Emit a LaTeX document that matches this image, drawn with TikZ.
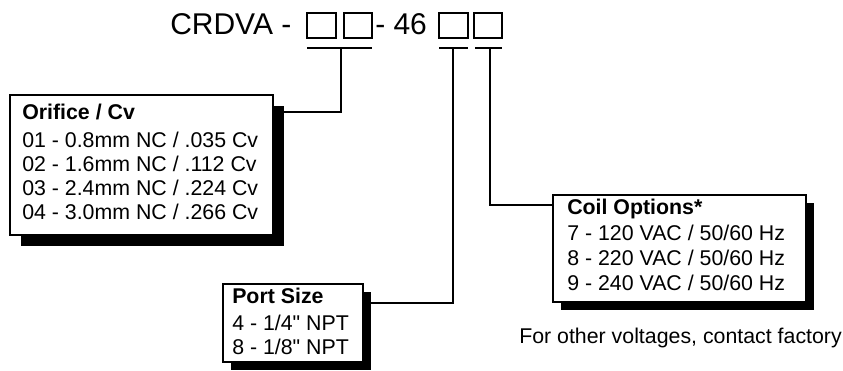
\documentclass[tikz,border=0pt]{standalone}
\usepackage{fontspec}
\setmainfont{Liberation Sans}[Ligatures=TeXOff]
\usetikzlibrary{shadows,fit}
\begin{document}
\begin{tikzpicture}[x=0.75pt,y=-0.75pt,
  box/.style={draw=black, line width=1pt, fill=white, inner sep=0pt,
    drop shadow={shadow xshift=#1, shadow yshift=-#1, fill=black, opacity=1}},
  sq/.style={draw=black, line width=1.6pt, inner sep=0pt},
  conn/.style={draw=black, line width=1.6pt},
  txt/.style={inner sep=0pt, anchor=base west, font=\fontsize{16pt}{18pt}\selectfont},
  hd/.style={txt, font=\fontsize{16pt}{18pt}\selectfont\bfseries},
  ttl/.style={inner sep=0pt, anchor=base west, font=\fontsize{22.5pt}{27pt}\selectfont}]
\useasboundingbox (0,0) rectangle (843,371);

% title
\node[ttl] (t1) at (170,34) {CRDVA -};
\node[sq, fit={(307,13)(336,38)}] (s1) {};
\node[sq, fit={(344,13)(372,38)}] (s2) {};
\node[ttl] (t2) at (375,34) {- 46};
\node[sq, fit={(439,13)(468,38)}] (s3) {};
\node[sq, fit={(474,13)(502,38)}] (s4) {};

% boxes
\node[box=8.25pt, fit={(10,95)(273,235)}] (orifice) {};
\node[box=6pt, fit={(223,284)(363,362)}] (port) {};
\node[box=6pt, fit={(553,195)(806,302)}] (coil) {};

% orifice text
\node[hd] (o0) at (22,119) {Orifice / Cv};
\node[txt] (o1) at (22,147) {01 - 0.8mm NC / .035 Cv};
\node[txt] (o2) at (22,171) {02 - 1.6mm NC / .112 Cv};
\node[txt] (o3) at (22,195) {03 - 2.4mm NC / .224 Cv};
\node[txt] (o4) at (22,219) {04 - 3.0mm NC / .266 Cv};

% port text
\node[hd] (p0) at (232,303) {Port Size};
\node[txt] (p1) at (232,330) {4 - 1/4" NPT};
\node[txt] (p2) at (232,354) {8 - 1/8" NPT};

% coil text
\node[hd] (c0) at (567,214) {Coil Options*};
\node[txt] (c1) at (567,240) {7 - 120 VAC / 50/60 Hz};
\node[txt] (c2) at (567,265) {8 - 220 VAC / 50/60 Hz};
\node[txt] (c3) at (567,290) {9 - 240 VAC / 50/60 Hz};

\node[txt] (note) at (519,343) {For other voltages, contact factory};

% connectors
\coordinate (u1l) at (307,48);
\coordinate (u1r) at (372,48);
\coordinate (u3l) at (439,48);
\coordinate (u3r) at (468,48);
\coordinate (u4l) at (475,48);
\coordinate (u4r) at (502,48);
\coordinate (j1) at (341,48);
\coordinate (j3) at (453,48);
\coordinate (j4) at (490,48);
\coordinate (oin) at (284,112);
\coordinate (pin) at (369,303);
\coordinate (cin) at (553,205);
\draw[conn] (u1l) -- (u1r);
\draw[conn] (u3l) -- (u3r);
\draw[conn] (u4l) -- (u4r);
\draw[conn] (j1) |- (oin);
\draw[conn] (j3) |- (pin);
\draw[conn] (j4) |- (cin);
\end{tikzpicture}
\end{document}
